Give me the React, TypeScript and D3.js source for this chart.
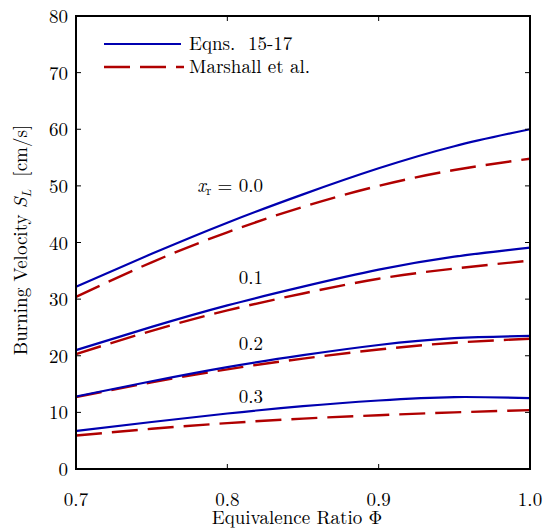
import React from "react";
import * as d3 from "d3";

const phi = [0.7, 0.75, 0.8, 0.85, 0.9, 0.95, 1.0];
const eqn00 = [32.2, 38.0, 43.5, 48.5, 53.1, 57.0, 60.0];
const eqn01 = [21.0, 25.1, 28.9, 32.2, 35.2, 37.5, 39.1];
const eqn02 = [12.8, 15.5, 18.0, 20.1, 21.9, 23.1, 23.5];
const eqn03 = [6.7, 8.3, 9.8, 11.1, 12.1, 12.7, 12.5];
const mar00 = [30.4, 36.5, 41.8, 46.3, 50.0, 52.8, 54.8];
const mar01 = [20.3, 24.4, 28.0, 31.0, 33.6, 35.4, 36.8];
const mar02 = [12.7, 15.3, 17.6, 19.5, 21.1, 22.3, 23.0];
const mar03 = [5.9, 7.1, 8.1, 8.9, 9.5, 10.0, 10.4];
const eqnSeries = [eqn00, eqn01, eqn02, eqn03];
const marSeries = [mar00, mar01, mar02, mar03];
const xTicks = [0.7, 0.8, 0.9, 1.0];
const yTicks = [0, 10, 20, 30, 40, 50, 60, 70, 80];
const curveLabels = ["0.0", "0.1", "0.2", "0.3"];
const legendNames = ["Eqns.  15-17", "Marshall et al."];

const BLUE = "#0000b0";
const RED = "#b00000";
const FONT = "Latin Modern Roman";

export default function App() {
  const W = 544, H = 529;
  const left = 76, right = 530, top = 16, bottom = 469;
  const x = d3.scaleLinear().domain([0.7, 1.0]).range([left, right]);
  const y = d3.scaleLinear().domain([0, 80]).range([bottom, top]);
  const line = d3
    .line<number>()
    .x((_, i) => x(phi[i]))
    .y((d) => y(d))
    .curve(d3.curveNatural);
  const tk = 5;
  const fs = 19;
  const ts: React.CSSProperties = { fontFamily: FONT, fontSize: fs, whiteSpace: "pre" };
  const labelBaselines = [192, 284, 349.5, 403];
  return (
    <div style={{ position: "absolute", left: 0, top: 0 }}>
      <svg width={W} height={H} style={{ display: "block" }}>
        <rect x={0} y={0} width={W} height={H} fill="#fff" />
        {marSeries.map((s, i) => (
          <path key={"m" + i} d={line(s) || ""} fill="none" stroke={RED} strokeWidth={2.4} strokeDasharray="26 10" />
        ))}
        {eqnSeries.map((s, i) => (
          <path key={"e" + i} d={line(s) || ""} fill="none" stroke={BLUE} strokeWidth={2.2} />
        ))}
        {xTicks.map((t) => (
          <g key={"xt" + t}>
            <line x1={x(t)} x2={x(t)} y1={bottom} y2={bottom - tk} stroke="#000" strokeWidth={1} />
            <line x1={x(t)} x2={x(t)} y1={top} y2={top + tk} stroke="#000" strokeWidth={1} />
            <text x={x(t)} y={506} style={ts} textAnchor="middle">{t.toFixed(1)}</text>
          </g>
        ))}
        {yTicks.map((t) => (
          <g key={"yt" + t}>
            <line x1={left} x2={left + tk} y1={y(t)} y2={y(t)} stroke="#000" strokeWidth={1} />
            <line x1={right} x2={right - tk} y1={y(t)} y2={y(t)} stroke="#000" strokeWidth={1} />
            <text x={68} y={y(t) + 7} style={ts} textAnchor="end">{t}</text>
          </g>
        ))}
        <rect x={left} y={top} width={right - left} height={bottom - top} fill="none" stroke="#000" strokeWidth={2} />
        <line x1={104} x2={181} y1={44} y2={44} stroke={BLUE} strokeWidth={2.2} />
        <line x1={104} x2={184} y1={67} y2={67} stroke={RED} strokeWidth={2.4} strokeDasharray="26 10" />
        <text x={189} y={50} style={ts}>{legendNames[0]}</text>
        <text x={189} y={73} style={ts}>{legendNames[1]}</text>
        {curveLabels.map((l, i) => (
          <text key={"cl" + i} x={263} y={labelBaselines[i]} style={ts} textAnchor="end">
            {i === 0 ? (
              <>
                <tspan fontStyle="italic">x</tspan>
                <tspan style={{ fontSize: 13 }} dy={3}>r</tspan>
                <tspan dy={-3}>{" = " + l}</tspan>
              </>
            ) : (
              l
            )}
          </text>
        ))}
        <text x={297} y={524} style={ts} textAnchor="middle">Equivalence Ratio Φ</text>
        <text transform="translate(27,240) rotate(-90)" style={ts} textAnchor="middle">
          Burning Velocity <tspan fontStyle="italic">S</tspan>
          <tspan fontStyle="italic" style={{ fontSize: 13 }} dy={4}>L</tspan>
          <tspan dy={-4}>{"  [cm/s]"}</tspan>
        </text>
      </svg>
    </div>
  );
}
